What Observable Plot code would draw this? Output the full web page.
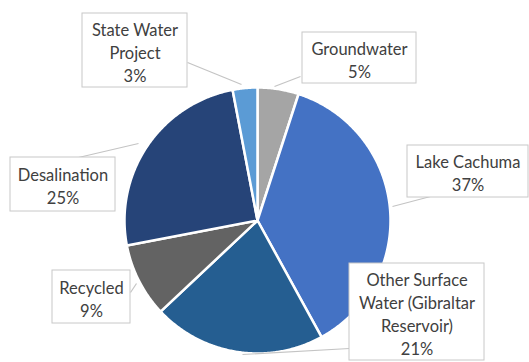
<!DOCTYPE html>
<html>
<head>
<meta charset="utf-8">
<script src="https://cdn.jsdelivr.net/npm/d3@7"></script>
<script src="https://cdn.jsdelivr.net/npm/@observablehq/plot@0.6"></script>
<style>
  html, body { margin: 0; padding: 0; background: #ffffff; }
  #chart { width: 529px; height: 362px; }
</style>
</head>
<body>
<div id="chart"></div>
<script>
// ---- data ----
const categories = ["Groundwater", "Lake Cachuma", "Other Surface Water (Gibraltar Reservoir)", "Recycled", "Desalination", "State Water Project"];
const shares = [5, 37, 21, 9, 25, 3];
const labelTexts = ["Groundwater\n5%", "Lake Cachuma\n37%", "Other Surface\nWater (Gibraltar\nReservoir)\n21%", "Recycled\n9%", "Desalination\n25%", "State Water\nProject\n3%"];

// ---- styles / layout ----
const colors = ["#a5a5a5", "#4472c4", "#255e91", "#636363", "#264478", "#5b9bd5"];
const W = 529, H = 362;
const cx = 257, cy = 220, R = 133;
// label boxes [x1, y1, x2, y2] in pixel space
const labelBoxes = [
  [302, 32, 416, 83],
  [407, 145, 528, 197],
  [349, 263, 484, 360],
  [52, 270, 130, 323],
  [10, 157, 115, 211],
  [82, 13, 187, 87]
];
// leader lines [x1, y1, x2, y2]
const leaders = [
  [300, 76, 274, 86],
  [430, 196, 392, 206],
  [349, 348, 242, 354],
  [130, 292, 136, 283],
  [78, 157, 138, 143],
  [187, 62, 241, 84]
];

const arcs = d3.pie().sort(null).value(d => d)(shares);
const slicePts = [];
arcs.forEach((a, i) => {
  slicePts.push({cat: categories[i], x: cx, y: cy});
  const n = Math.max(2, Math.ceil((a.endAngle - a.startAngle) / (Math.PI / 360)));
  for (let k = 0; k <= n; k++) {
    const t = a.startAngle + (a.endAngle - a.startAngle) * k / n;
    slicePts.push({cat: categories[i], x: cx + R * Math.sin(t), y: cy - R * Math.cos(t)});
  }
});

const boxes = labelBoxes.map((b, i) => ({cat: categories[i], x1: b[0], y1: b[1], x2: b[2], y2: b[3], text: labelTexts[i]}));
const links = leaders.map((l, i) => ({cat: categories[i], x1: l[0], y1: l[1], x2: l[2], y2: l[3]}));

const chart = Plot.plot({
  width: W,
  height: H,
  margin: 0,
  x: {domain: [0, W], range: [0, W], axis: null},
  y: {domain: [0, H], range: [0, H], axis: null},
  color: {domain: categories, range: colors},
  style: {background: "#ffffff", fontFamily: "Lato, 'Open Sans', sans-serif"},
  marks: [
    Plot.line(slicePts, {x: "x", y: "y", z: "cat", fill: "cat", stroke: "#ffffff", strokeWidth: 2.5, curve: "linear-closed", strokeLinejoin: "round"}),
    Plot.link(links, {x1: "x1", y1: "y1", x2: "x2", y2: "y2", stroke: "#c4c4c4", strokeWidth: 1.2}),
    Plot.rect(boxes, {x1: "x1", y1: "y1", x2: "x2", y2: "y2", fill: "#ffffff", stroke: "#c8c8c8", strokeWidth: 1}),
    Plot.text(boxes, {x: d => (d.x1 + d.x2) / 2, y: d => (d.y1 + d.y2) / 2 + 1, text: "text", fontSize: 16.5, lineHeight: 1.4, fill: "#404040", textAnchor: "middle", letterSpacing: "-0.3px"})
  ]
});
document.getElementById("chart").appendChild(chart);
</script>
</body>
</html>
